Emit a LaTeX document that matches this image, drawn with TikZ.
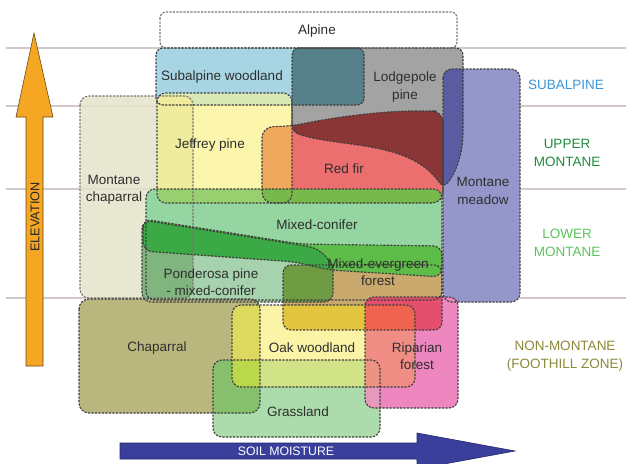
\documentclass[tikz,border=0pt]{standalone}
\usepackage{fontspec}
\setmainfont{Liberation Sans}
\definecolor{txt}{HTML}{2E2E2E}
\definecolor{gridc}{HTML}{D3C8C8}
\definecolor{bord}{HTML}{3E3E3E}
\definecolor{bordl}{HTML}{7A7470}
\definecolor{subF}{HTML}{A8D5E3}
\definecolor{lodF}{HTML}{A3A3A3}
\definecolor{teal}{HTML}{56808A}
\definecolor{chapMF}{HTML}{E5E3CB}
\definecolor{jefF}{HTML}{FBF6AC}
\definecolor{jefSub}{HTML}{D9E9B6}
\definecolor{jefChapM}{HTML}{EFEC9E}
\definecolor{redF}{HTML}{EC6F6F}
\definecolor{redJef}{HTML}{EFA95E}
\definecolor{redLod}{HTML}{8B3636}
\definecolor{meadF}{HTML}{9597CB}
\definecolor{meadLod}{HTML}{5A5CA2}
\definecolor{mcF}{HTML}{95D5A2}
\definecolor{mcJef}{HTML}{98D070}
\definecolor{mcRed}{HTML}{78B94C}
\definecolor{ponF}{HTML}{A6D3AE}
\definecolor{ponChapM}{HTML}{80B580}
\definecolor{bandF}{HTML}{5EBD48}
\definecolor{bandPon}{HTML}{3BA946}
\definecolor{tanF}{HTML}{C9A96E}
\definecolor{tanPon}{HTML}{6F9B42}
\definecolor{chapF}{HTML}{BAB77E}
\definecolor{oakF}{HTML}{FBF4A6}
\definecolor{oakChap}{HTML}{DCD95E}
\definecolor{oakTan}{HTML}{E3C43E}
\definecolor{grassF}{HTML}{ACDCAB}
\definecolor{grassChap}{HTML}{86C06C}
\definecolor{grassOak}{HTML}{D2E286}
\definecolor{grassOakChap}{HTML}{BBD84C}
\definecolor{ripF}{HTML}{EE86C0}
\definecolor{ripOak}{HTML}{F08E86}
\definecolor{ripTan}{HTML}{E54F6E}
\definecolor{ripTanOak}{HTML}{F0644F}
\definecolor{ripGrass}{HTML}{E79ABE}
\definecolor{ripGrassOak}{HTML}{EE9282}
\definecolor{zSub}{HTML}{3D94D6}
\definecolor{zUp}{HTML}{1E8C3C}
\definecolor{zLow}{HTML}{5CC45C}
\definecolor{zNon}{HTML}{8C8A3C}
\definecolor{elevF}{HTML}{F5A623}
\definecolor{elevB}{HTML}{6B4A1A}
\definecolor{soilF}{HTML}{3B3F9C}
\definecolor{soilB}{HTML}{24276E}
% shape paths (x right, y down, in px)
\def\pAlp{[rounded corners=6] (160,12) rectangle (457,48)}
\def\pSub{[rounded corners=7] (156,48) rectangle (364,105)}
\def\pLod{[rounded corners=7] (380,48) -- (463,48) -- (463,125) .. controls (463,160) and (452,178) .. (443,188) .. controls (410,140) and (340,148) .. (292,132) -- (292,48) -- cycle}
\def\pChapM{[rounded corners=9] (80,96) rectangle (193,298)}
\def\pJef{[rounded corners=9] (157,93) rectangle (292,203)}
\def\pRed{[rounded corners=11] (350,203) -- (262,203) -- (262,127) -- (292,126) .. controls (330,118) and (380,111) .. (425,111) -- (443,111) -- (443,203) -- cycle}
\def\pMead{[rounded corners=9] (443,69) rectangle (520,302)}
\def\pMC{[rounded corners=9] (146,189) rectangle (442,300)}
\def\pPon{[rounded corners=9] (230,302) -- (142,302) -- (142,220) -- (300,245) .. controls (322,249) and (333,262) .. (333,282) -- (333,302) -- cycle}
\def\pBand{[rounded corners=9] (143,235) -- (143,219) -- (300,244) -- (442,246) -- (442,277) -- (330,270) -- (295,262) -- (143,251) -- cycle}
\def\pTan{[rounded corners=8] (283,265) rectangle (442,330)}
\def\pChap{[rounded corners=10] (79,299) rectangle (260,413)}
\def\pOak{[rounded corners=9] (232,305) rectangle (415,387)}
\def\pGrass{[rounded corners=9] (213,360) rectangle (380,437)}
\def\pRip{[rounded corners=9] (365,297) rectangle (458,408)}
\newcommand\ovl[3]{\begin{scope}\clip #1;\fill[#3] #2;\end{scope}}
\newcommand\ovlt[4]{\begin{scope}\clip #1;\clip #2;\fill[#4] #3;\end{scope}}
\tikzset{
  lab/.style={font=\fontsize{13.5}{17.5}\selectfont, text=txt, align=center, inner sep=0pt},
  zone/.style={font=\fontsize{13.5}{17.5}\selectfont, align=center, inner sep=0pt},
  brd/.style={draw=bord, line width=1.15pt, dash pattern=on 2.2pt off 1.3pt},
  brdl/.style={draw=bordl, line width=1.15pt, dash pattern=on 2.2pt off 1.3pt},
  gridline/.style={draw=gridc, line width=1.8pt}
}
\begin{document}
\begin{tikzpicture}[x=1pt,y=-1pt]
\useasboundingbox (0,0) rectangle (626,463);
\fill[white] (0,0) rectangle (626,463);
% zone lines
\coordinate (l1a) at (6,48);  \coordinate (l1b) at (626,48);
\coordinate (l2a) at (6,106); \coordinate (l2b) at (626,106);
\coordinate (l3a) at (6,189); \coordinate (l3b) at (626,189);
\coordinate (l4a) at (6,298); \coordinate (l4b) at (626,298);
\draw[gridline] (l1a) -- (l1b);
\draw[gridline] (l2a) -- (l2b);
\draw[gridline] (l3a) -- (l3b);
\draw[gridline] (l4a) -- (l4b);
% fills
\fill[white] \pAlp;
\fill[chapMF, opacity=0.85] \pChapM;
\fill[subF] \pSub;
\fill[jefF] \pJef;
\ovl{\pJef}{\pSub}{jefSub}
\ovl{\pJef}{\pChapM}{jefChapM}
\fill[lodF] \pLod;
\ovl{\pLod}{\pSub}{teal}
\fill[redF] \pRed;
\ovl{\pRed}{\pJef}{redJef}
\ovl{\pRed}{\pLod}{redLod}
\fill[meadF] \pMead;
\ovl{\pMead}{\pLod}{meadLod}
\fill[mcF] \pMC;
\ovl{\pMC}{\pJef}{mcJef}
\ovl{\pMC}{\pRed}{mcRed}
\fill[ponF] \pPon;
\ovl{\pPon}{\pChapM}{ponChapM}
\fill[tanF] \pTan;
\ovl{\pTan}{\pPon}{tanPon}
\fill[bandF] \pBand;
\ovl{\pBand}{\pPon}{bandPon}
\fill[chapF] \pChap;
\fill[oakF] \pOak;
\ovl{\pOak}{\pChap}{oakChap}
\ovl{\pOak}{\pTan}{oakTan}
\fill[grassF] \pGrass;
\ovl{\pGrass}{\pChap}{grassChap}
\ovl{\pGrass}{\pOak}{grassOak}
\ovlt{\pGrass}{\pOak}{\pChap}{grassOakChap}
\fill[ripF] \pRip;
\ovl{\pRip}{\pOak}{ripOak}
\ovl{\pRip}{\pTan}{ripTan}
\ovlt{\pRip}{\pTan}{\pOak}{ripTanOak}
\ovl{\pRip}{\pGrass}{ripGrass}
\ovlt{\pRip}{\pGrass}{\pOak}{ripGrassOak}
% borders
\path[brdl] \pAlp;
\path[brdl] \pChapM;
\path[brd] \pSub;
\path[brd] \pJef;
\path[brd] \pLod;
\path[brd] \pRed;
\path[brd] \pMead;
\path[brd] \pMC;
\path[brd] \pPon;
\path[brd] \pTan;
\path[brd] \pBand;
\path[brd] \pChap;
\path[brd] \pOak;
\path[brd] \pGrass;
\path[brd] \pRip;
% labels
\node[lab] (alpine) at (317,31) {Alpine};
\node[lab] (subw) at (222,77) {Subalpine woodland};
\node[lab] (lodge) at (405,87) {Lodgepole\\pine};
\node[lab] (jeff) at (210,145) {Jeffrey pine};
\node[lab] (redfir) at (344,169) {Red fir};
\node[lab] (montch) at (114,190) {Montane\\chaparral};
\node[lab] (meadow) at (483,191) {Montane\\meadow};
\node[lab] (mixc) at (317,225) {Mixed-conifer};
\node[lab] (mixe) at (378,272) {Mixed-evergreen\\forest};
\node[lab] (pond) at (211,282) {Ponderosa pine\\- mixed-conifer};
\node[lab] (chap) at (157,348) {Chaparral};
\node[lab] (oak) at (312,348) {Oak woodland};
\node[lab] (rip) at (417,356) {Riparian\\forest};
\node[lab] (grass) at (298,412) {Grassland};
% zone labels
\node[zone, text=zSub] (zsub) at (566,85) {SUBALPINE};
\node[zone, text=zUp] (zup) at (567,153) {UPPER\\MONTANE};
\node[zone, text=zLow] (zlow) at (567,243) {LOWER\\MONTANE};
\node[zone, text=zNon] (znon) at (565,356) {NON-MONTANE\\(FOOTHILL ZONE)};
% elevation arrow
\draw[fill=elevF, draw=elevB, line width=0.6pt] (26,366) -- (26,117) -- (16,117) -- (34,33) -- (53,117) -- (43,117) -- (43,366) -- cycle;
\node[rotate=90, font=\fontsize{12.7}{15}\selectfont, text=black!85, inner sep=0pt] (elev) at (35,217) {ELEVATION};
% soil moisture arrow
\draw[fill=soilF, draw=soilB, line width=0.6pt] (120,443) -- (417,443) -- (417,433) -- (515,451) -- (417,469) -- (417,459) -- (120,459) -- cycle;
\node[font=\fontsize{12.3}{15}\selectfont, text=white, inner sep=0pt] (soil) at (286,451) {SOIL MOISTURE};
\end{tikzpicture}
\end{document}
